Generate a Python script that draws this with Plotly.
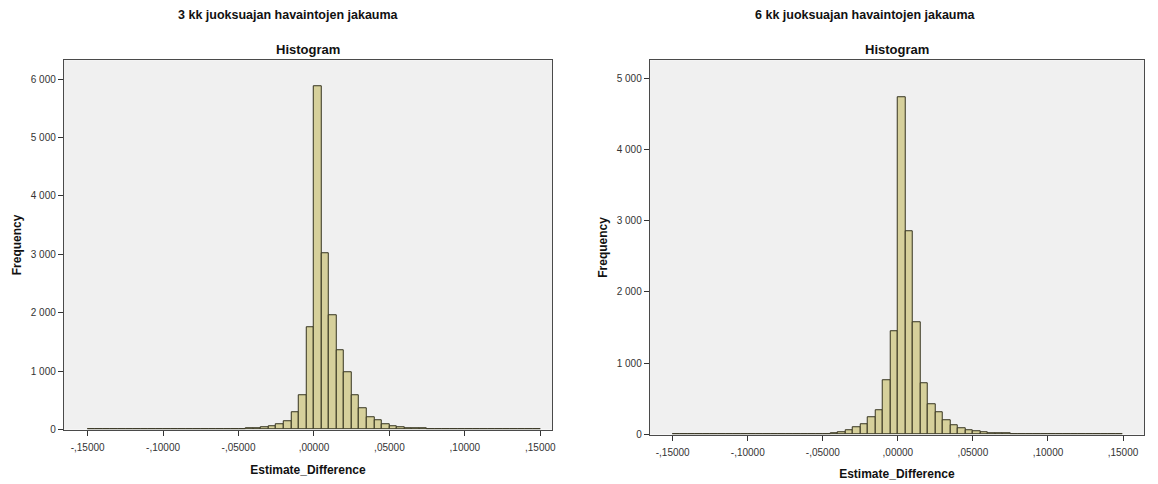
import plotly.graph_objects as go

# Histogram bins: 0.005 wide, covering -0.15 ... 0.15 (60 bins)
BIN_START = -0.15
BIN_WIDTH = 0.005

# 3-month running window: frequency per bin
counts_3kk = [
    3, 2, 2, 3, 2, 3, 2, 3, 4, 3, 4, 3, 5, 4, 5, 6, 5, 7, 8, 9,
    12, 18, 25, 35, 58, 90, 150, 295, 585, 1745,
    5870, 3015, 1955, 1350, 975, 590, 360, 205, 155, 96, 65, 45,
    30, 22, 16, 12, 10, 8, 7, 6, 5, 6, 5, 8, 6, 5, 7, 5, 6, 4,
]

# 6-month running window: frequency per bin
counts_6kk = [
    2, 2, 3, 2, 2, 3, 3, 2, 3, 4, 3, 4, 5, 4, 5, 6, 6, 7, 8, 9,
    10, 22, 37, 60, 107, 150, 242, 345, 762, 1455,
    4725, 2855, 1570, 716, 429, 314, 199, 129, 92, 60, 46, 32,
    22, 16, 12, 10, 8, 7, 6, 6, 5, 7, 6, 5, 7, 6, 5, 8, 6, 4,
]

x_tickvals = [-0.15, -0.10, -0.05, 0.0, 0.05, 0.10, 0.15]
x_ticktext = ["-,15000", "-,10000", "-,05000", ",00000", ",05000", ",10000", ",15000"]

y_tickvals_3kk = [0, 1000, 2000, 3000, 4000, 5000, 6000]
y_ticktext_3kk = ["0", "1 000", "2 000", "3 000", "4 000", "5 000", "6 000"]
y_tickvals_6kk = [0, 1000, 2000, 3000, 4000, 5000]
y_ticktext_6kk = ["0", "1 000", "2 000", "3 000", "4 000", "5 000"]

titles = ["3 kk juoksuajan havaintojen jakauma", "6 kk juoksuajan havaintojen jakauma"]

centers = [BIN_START + BIN_WIDTH * (i + 0.5) for i in range(len(counts_3kk))]

FONT = "Arial, Liberation Sans, sans-serif"
BAR_FILL = "#d6d09b"
BAR_EDGE = "#35331f"
PLOT_BG = "#f0f0f0"

fig = go.Figure()
fig.add_trace(go.Bar(x=centers, y=counts_3kk, width=BIN_WIDTH, xaxis="x", yaxis="y",
                     marker=dict(color=BAR_FILL, line=dict(color=BAR_EDGE, width=1)),
                     showlegend=False))
fig.add_trace(go.Bar(x=centers, y=counts_6kk, width=BIN_WIDTH, xaxis="x2", yaxis="y2",
                     marker=dict(color=BAR_FILL, line=dict(color=BAR_EDGE, width=1)),
                     showlegend=False))

W, H = 1158, 484
# plot-area pixel boxes: (left, right, top, bottom)
box1 = (64, 554, 61, 435)
box2 = (652, 1148, 61, 440)


def dom_x(b):
    return [b[0] / W, b[1] / W]


def dom_y(b):
    return [1 - b[3] / H, 1 - b[2] / H]


axis_common = dict(
    showline=True, linecolor="#4a4a4a", linewidth=1, mirror=True,
    ticks="outside", ticklen=5, tickcolor="#333333", tickwidth=1,
    showgrid=False, zeroline=False,
    tickfont=dict(family=FONT, size=10, color="#333333"),
)

# axis ranges from the pixel scale of each panel
x_range = [-0.1658, 0.1578]
x_range2 = [-0.1653, 0.1640]
y_top1 = 6000 * (box1[3] - box1[2]) / (435 - 80)
y_top2 = 5000 * (box2[3] - box2[2]) / (440 - 79)

title_font = dict(family=FONT, size=12, color="#111111")

fig.update_layout(
    width=W, height=H,
    margin=dict(l=0, r=0, t=0, b=0),
    paper_bgcolor="white",
    plot_bgcolor=PLOT_BG,
    bargap=0,
    xaxis=dict(domain=dom_x(box1), anchor="y", range=x_range,
               tickvals=x_tickvals, ticktext=x_ticktext, ticklabelstandoff=3,
               title=dict(text="<b>Estimate_Difference</b>", font=title_font, standoff=13),
               **axis_common),
    yaxis=dict(domain=dom_y(box1), anchor="x", range=[0, y_top1],
               tickvals=y_tickvals_3kk, ticktext=y_ticktext_3kk,
               title=dict(text="<b>Frequency</b>", font=title_font, standoff=6),
               **axis_common),
    xaxis2=dict(domain=dom_x(box2), anchor="y2", range=x_range2,
                tickvals=x_tickvals, ticktext=x_ticktext, ticklabelstandoff=3,
                title=dict(text="<b>Estimate_Difference</b>", font=title_font, standoff=13),
                **axis_common),
    yaxis2=dict(domain=dom_y(box2), anchor="x2", range=[0, y_top2],
                tickvals=y_tickvals_6kk, ticktext=y_ticktext_6kk,
                title=dict(text="<b>Frequency</b>", font=title_font, standoff=6),
                **axis_common),
)

annotations = []
for title, cx_main, box in [(titles[0], 290, box1), (titles[1], 869, box2)]:
    annotations.append(dict(text="<b>" + title + "</b>", x=cx_main / W, y=1 - 15 / H,
                            xref="paper", yref="paper", showarrow=False,
                            xanchor="center", yanchor="middle",
                            font=dict(family=FONT, size=12.5, color="#111111")))
    annotations.append(dict(text="<b>Histogram</b>", x=(box[0] + box[1]) / 2 / W, y=1 - 50 / H,
                            xref="paper", yref="paper", showarrow=False,
                            xanchor="center", yanchor="middle",
                            font=dict(family=FONT, size=13, color="#111111")))
fig.update_layout(annotations=annotations)

fig.write_html("out.html")
